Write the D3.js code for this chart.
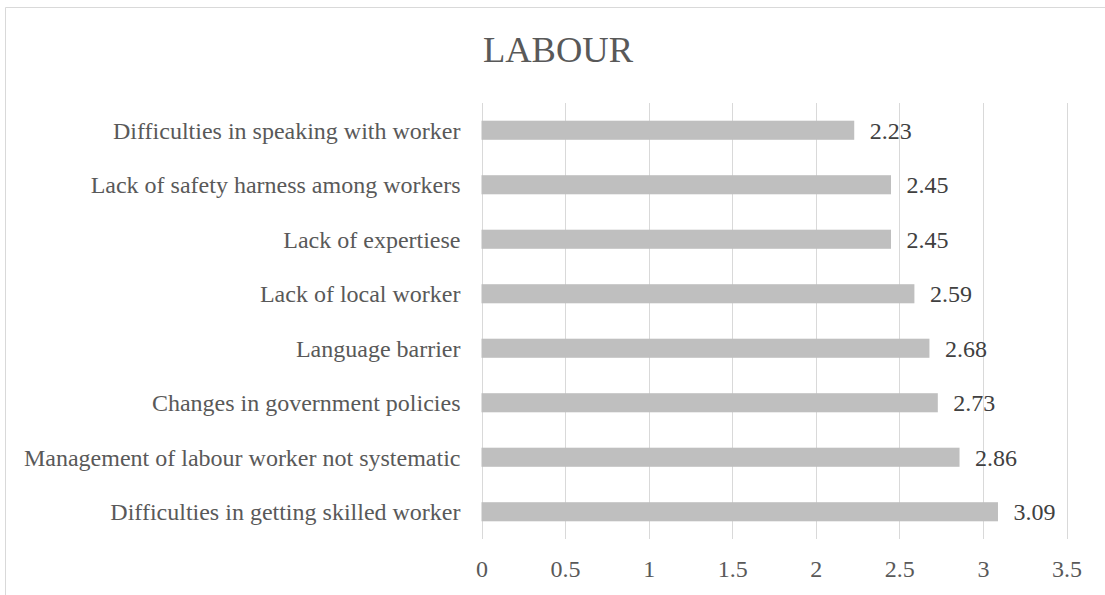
<!DOCTYPE html>
<html>
<head>
<meta charset="utf-8">
<script src="https://cdn.jsdelivr.net/npm/d3@7"></script>
<style>
  html, body { margin: 0; padding: 0; background: #ffffff; }
  svg text { font-family: "Liberation Serif", "Times New Roman", serif; fill: #595959; }
</style>
</head>
<body>
<svg id="chart" width="1105" height="595"></svg>
<script>
// Labour-related problems, mean scores (top row first)
const categories = [
  "Difficulties in speaking with worker",
  "Lack of safety harness among workers",
  "Lack of expertiese",
  "Lack of local worker",
  "Language barrier",
  "Changes in government policies",
  "Management of labour worker not systematic",
  "Difficulties in getting skilled worker"
];
const values = [2.23, 2.45, 2.45, 2.59, 2.68, 2.73, 2.86, 3.09];
const tickValues = [0, 0.5, 1, 1.5, 2, 2.5, 3, 3.5];
const title = "LABOUR";

const svg = d3.select("#chart");
const labelFont = '"Liberation Serif", "Times New Roman", serif';

// Outer chart frame (top and left edges)
svg.append("path")
  .attr("d", "M5.5,595 L5.5,7.5 L1105,7.5")
  .attr("fill", "none")
  .attr("stroke", "#d9d9d9")
  .attr("stroke-width", 1);

const plot = { left: 481.5, right: 1066.5, top: 103, bottom: 539 };

const x = d3.scaleLinear().domain([0, 3.5]).range([plot.left, plot.right]);
const y = d3.scaleBand().domain(categories).range([plot.top, plot.bottom])
  .paddingInner(0.65).paddingOuter(0.325);

// Title
svg.append("text")
  .attr("x", 558)
  .attr("y", 62)
  .attr("text-anchor", "middle")
  .style("font-size", "36.5px")
  .text(title);

// Vertical gridlines
svg.append("g")
  .selectAll("line")
  .data(tickValues)
  .join("line")
  .attr("x1", d => Math.round(x(d)) + 0.5)
  .attr("x2", d => Math.round(x(d)) + 0.5)
  .attr("y1", plot.top)
  .attr("y2", plot.bottom)
  .attr("stroke", "#d9d9d9")
  .attr("stroke-width", 1);

// Bottom axis tick labels
const xAxis = d3.axisBottom(x).tickValues(tickValues).tickSize(0).tickPadding(0)
  .tickFormat(d3.format("~g"));
const gx = svg.append("g").attr("transform", `translate(0,${plot.bottom})`).call(xAxis);
gx.select(".domain").remove();
gx.selectAll("text")
  .attr("dy", null)
  .attr("y", 38)
  .style("font-size", "24px")
  .style("font-family", labelFont)
  .attr("fill", "#595959");

// Category labels
const yAxis = d3.axisLeft(y).tickSize(0).tickPadding(0);
const gy = svg.append("g").attr("transform", `translate(${plot.left - 21},0)`).call(yAxis);
gy.select(".domain").remove();
gy.selectAll("text")
  .attr("dy", "0.35em")
  .style("font-size", "24px")
  .style("font-family", labelFont)
  .attr("fill", "#595959");

// Bars
const rows = categories.map((c, i) => ({ c, v: values[i] }));
svg.append("g")
  .selectAll("rect")
  .data(rows)
  .join("rect")
  .attr("x", x(0))
  .attr("y", d => y(d.c))
  .attr("width", d => x(d.v) - x(0))
  .attr("height", y.bandwidth())
  .attr("fill", "#bfbfbf");

// Value labels
svg.append("g")
  .selectAll("text")
  .data(rows)
  .join("text")
  .attr("x", d => x(d.v) + 15.5)
  .attr("y", d => y(d.c) + y.bandwidth() / 2)
  .attr("dy", "0.36em")
  .style("font-size", "24px")
  .style("fill", "#404040")
  .text(d => d3.format(".2f")(d.v));
</script>
</body>
</html>
